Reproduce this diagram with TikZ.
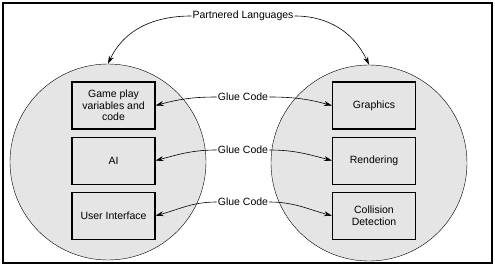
\documentclass[tikz,border=0pt]{standalone}
\usepackage{fontspec}
\setmainfont{Liberation Sans}
\usetikzlibrary{positioning,arrows.meta}

\begin{document}
\begin{tikzpicture}[x=1pt, y=-1pt,
    lang/.style={circle, draw, fill=black!10, minimum size=196pt, inner sep=0pt},
    box/.style={rectangle, draw, line width=1.1pt, fill=black!10,
                minimum width=83pt, minimum height=47pt, align=center,
                font=\fontsize{10.5}{11.5}\selectfont},
    tag/.style={font=\fontsize{10.5}{12}\selectfont, inner sep=1pt},
    link/.style={-{Stealth[length=8pt, width=5pt]}, line width=0.6pt}]
    \useasboundingbox (0,0) rectangle (495,267);
    \draw[line width=2pt] (3,3) rectangle (492,263);
    % the two language spheres
    \node[lang] (left)  at (108,162) {};
    \node[lang] (right) at (369,163) {};
    \node[box] (game) at (113.5,105.5) {Game play\\variables and\\code};
    \node[box, below=7pt of game] (ai) {AI};
    \node[box, below=7pt of ai] (ui) {User Interface};
    \node[box] (gfx) at (374,105.5) {Graphics};
    \node[box, below=7pt of gfx] (render) {Rendering};
    \node[box, below=7pt of render] (coll) {Collision\\Detection};
    % glue between the boxes
    \node[tag] (g1) at (243,97)  {Glue Code};
    \node[tag] (g2) at (243,150) {Glue Code};
    \node[tag] (g3) at (243,202) {Glue Code};
    \draw[link] (g1.west) to[out=180, in=15] (game.east);
    \draw[link] (g1.east) to[out=0, in=165] (gfx.west);
    \draw[link] (g2.west) to[out=180, in=15] (ai.east);
    \draw[link] (g2.east) to[out=0, in=165] (render.west);
    \draw[link] (g3.west) to[out=180, in=15] (ui.east);
    \draw[link] (g3.east) to[out=0, in=165] (coll.west);
    % partnered languages
    \node[tag] (pl) at (243,16) {Partnered Languages};
    \draw[link] (pl.west) to[out=180, in=65] (left.north);
    \draw[link] (pl.east) to[out=0, in=115] (right.north);
\end{tikzpicture}
\end{document}
